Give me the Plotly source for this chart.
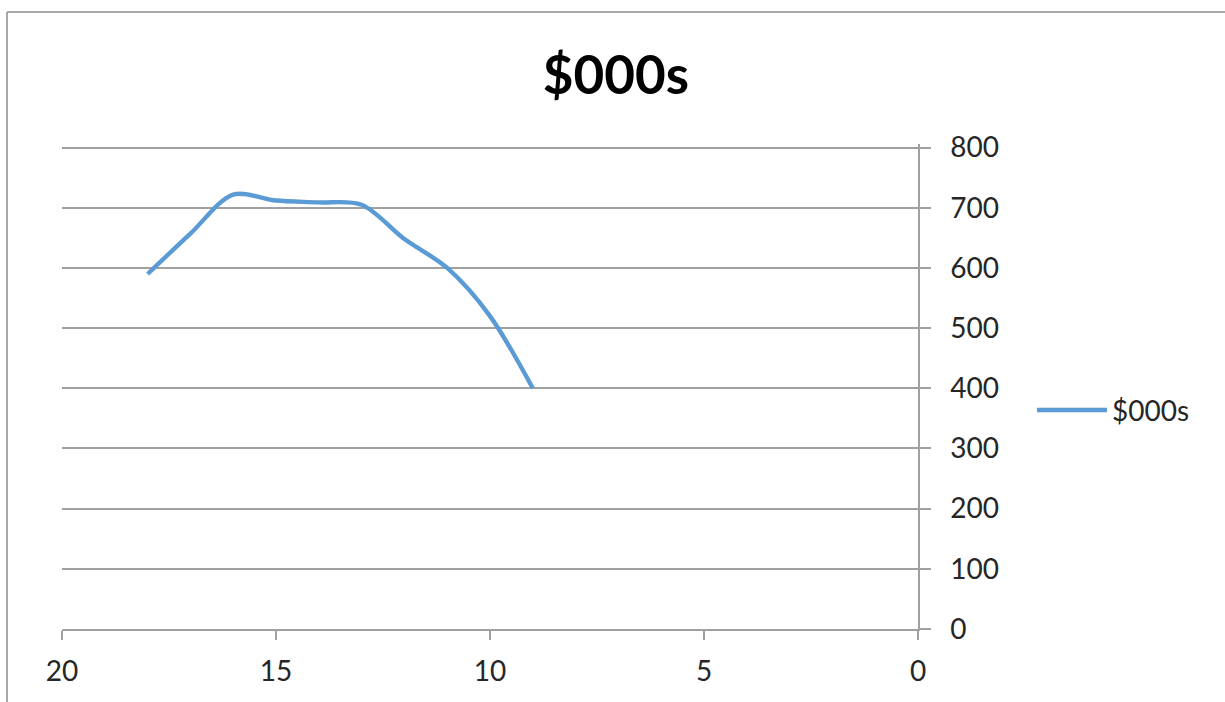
import plotly.graph_objects as go

# Series data
series_name = "$000s"
x_values = [18, 17, 16, 15, 14, 13, 12, 11, 10, 9]
y_values = [590, 657, 722, 712, 709, 705, 648, 600, 520, 400]

x_ticks = [20, 15, 10, 5, 0]
y_ticks = [0, 100, 200, 300, 400, 500, 600, 700, 800]

LINE_COLOR = "#5B9BD5"
AXIS_COLOR = "#a0a0a0"
TEXT_COLOR = "#262626"
FONT = "Lato, 'Open Sans', sans-serif"

W, H = 1225, 702
ML, MR, MT, MB = 62, 307, 144, 73
plot_w = W - ML - MR
plot_h = H - MT - MB


def px_to_paper_x(px):
    return (px - ML) / plot_w


def px_to_paper_y(py):
    return (H - MB - py) / plot_h


fig = go.Figure()
fig.add_trace(go.Scatter(
    x=x_values, y=y_values, mode="lines", name=series_name,
    line=dict(color=LINE_COLOR, width=4.4, shape="spline", smoothing=0.9),
    showlegend=False,
))

# Legend entry: sample line plus label to the right of the value axis
leg_y = px_to_paper_y(410)
fig.add_shape(type="line", xref="paper", yref="paper",
              x0=px_to_paper_x(1037), x1=px_to_paper_x(1107), y0=leg_y, y1=leg_y,
              line=dict(color=LINE_COLOR, width=4.4))
fig.add_annotation(xref="paper", yref="paper", x=px_to_paper_x(1110), y=leg_y,
                   text=series_name, showarrow=False, xanchor="left", yanchor="middle",
                   font=dict(family=FONT, size=28, color=TEXT_COLOR))

# Chart-area frame (top and left edges)
fig.add_shape(type="line", xref="paper", yref="paper",
              x0=px_to_paper_x(7), x1=px_to_paper_x(1230),
              y0=px_to_paper_y(12), y1=px_to_paper_y(12),
              line=dict(color="#8c8c8c", width=1.5))
fig.add_shape(type="line", xref="paper", yref="paper",
              x0=px_to_paper_x(7), x1=px_to_paper_x(7),
              y0=px_to_paper_y(12), y1=px_to_paper_y(710),
              line=dict(color="#8c8c8c", width=1.5))

fig.update_layout(
    width=W, height=H, autosize=False,
    margin=dict(l=ML, r=MR, t=MT, b=MB),
    paper_bgcolor="white", plot_bgcolor="white",
    font=dict(family=FONT, color=TEXT_COLOR),
    title=dict(text="<b>" + series_name + "</b>", x=px_to_paper_x(616), xref="paper",
               xanchor="center", y=1 - 75 / H, yref="container", yanchor="middle",
               font=dict(family=FONT, size=53, color="#000000")),
    xaxis=dict(
        range=[20, 0], tickvals=x_ticks, ticks="outside", ticklen=9,
        tickcolor=AXIS_COLOR, tickwidth=1.5, showline=True, linecolor=AXIS_COLOR,
        linewidth=1.5, showgrid=False, zeroline=False,
        tickfont=dict(family=FONT, size=28, color=TEXT_COLOR),
        ticklabelstandoff=8,
    ),
    yaxis=dict(
        side="right", range=[0, 806], tickvals=y_ticks, ticks="outside", ticklen=11,
        tickcolor=AXIS_COLOR, tickwidth=1.5, showline=True, linecolor=AXIS_COLOR,
        linewidth=1.5, showgrid=True, gridcolor=AXIS_COLOR, gridwidth=1.5,
        zeroline=False, tickfont=dict(family=FONT, size=28, color=TEXT_COLOR),
        ticklabelstandoff=14,
    ),
)

fig.write_html("out.html")
